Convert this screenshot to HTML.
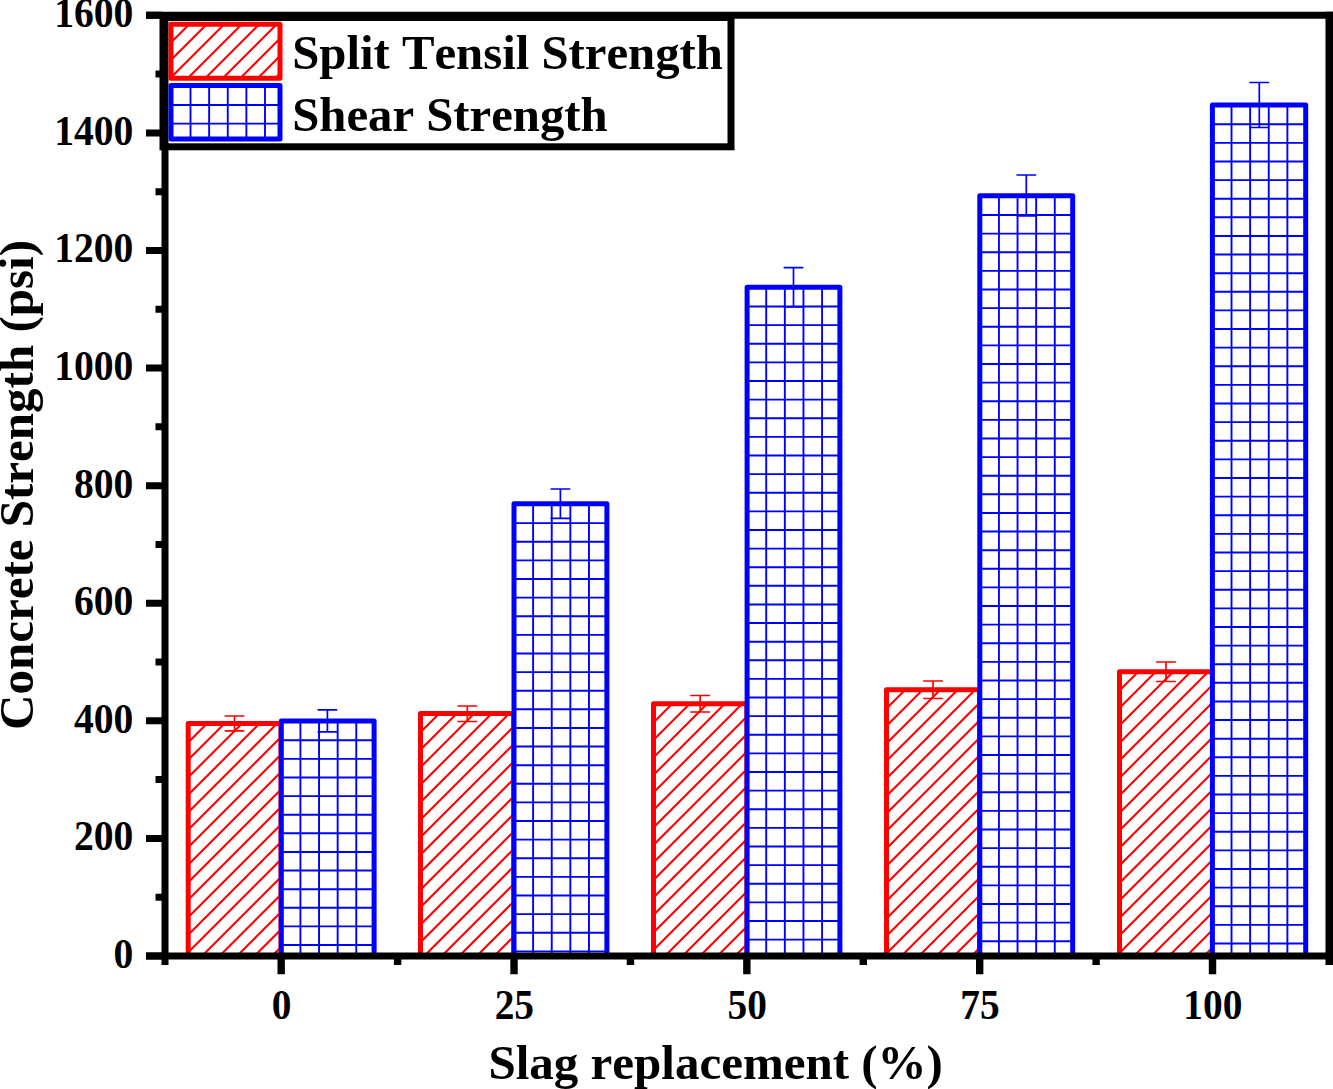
<!DOCTYPE html>
<html><head><meta charset="utf-8"><title>Concrete Strength vs Slag replacement</title>
<style>html,body{margin:0;padding:0;background:#fff;}body{width:1333px;height:1089px;overflow:hidden;}svg{display:block;}text{font-family:"Liberation Serif",serif;font-weight:bold;fill:#000;font-kerning:none;font-variant-ligatures:none;}</style>
</head><body>
<svg width="1333" height="1089" viewBox="0 0 1333 1089">
<rect x="0" y="0" width="1333" height="1089" fill="#fff"/>
<clipPath id="c1"><rect x="188.20" y="723.60" width="92.80" height="232.40"/></clipPath>
<g clip-path="url(#c1)" stroke="#ff0000" stroke-width="2.10" fill="none">
<path d="M183.20 729.85L286.00 627.05M183.20 747.35L286.00 644.55M183.20 764.85L286.00 662.05M183.20 782.35L286.00 679.55M183.20 799.85L286.00 697.05M183.20 817.35L286.00 714.55M183.20 834.85L286.00 732.05M183.20 852.35L286.00 749.55M183.20 869.85L286.00 767.05M183.20 887.35L286.00 784.55M183.20 904.85L286.00 802.05M183.20 922.35L286.00 819.55M183.20 939.85L286.00 837.05M183.20 957.35L286.00 854.55M183.20 974.85L286.00 872.05M183.20 992.35L286.00 889.55M183.20 1009.85L286.00 907.05M183.20 1027.35L286.00 924.55M183.20 1044.85L286.00 942.05"/>
</g>
<rect x="188.20" y="723.60" width="92.80" height="232.40" fill="none" stroke="#ff0000" stroke-width="5.00" stroke-linejoin="round"/>
<path d="M225.30 716.00H243.70M225.30 730.80H243.70M234.50 716.00V730.80" stroke="#ff0000" stroke-width="1.7" stroke-linecap="round" fill="none"/>
<rect x="281.30" y="720.90" width="92.80" height="235.10" fill="#fff" stroke="none"/>
<clipPath id="c2"><rect x="281.30" y="720.90" width="92.80" height="235.10"/></clipPath>
<g clip-path="url(#c2)" stroke="#0000ff" stroke-width="1.90" fill="none">
<path d="M300.42 720.90V956.00M319.04 720.90V956.00M337.66 720.90V956.00M356.28 720.90V956.00M281.30 740.22H374.10M281.30 758.84H374.10M281.30 777.46H374.10M281.30 796.08H374.10M281.30 814.70H374.10M281.30 833.32H374.10M281.30 851.94H374.10M281.30 870.56H374.10M281.30 889.18H374.10M281.30 907.80H374.10M281.30 926.42H374.10M281.30 945.04H374.10"/>
</g>
<rect x="281.30" y="720.90" width="92.80" height="235.10" fill="none" stroke="#0000ff" stroke-width="5.00" stroke-linejoin="round"/>
<path d="M318.20 709.80H336.60M318.20 731.80H336.60M327.40 709.80V731.80" stroke="#0000ff" stroke-width="1.7" stroke-linecap="round" fill="none"/>
<clipPath id="c3"><rect x="420.50" y="713.50" width="93.30" height="242.50"/></clipPath>
<g clip-path="url(#c3)" stroke="#ff0000" stroke-width="2.10" fill="none">
<path d="M415.50 719.75L518.80 616.45M415.50 737.25L518.80 633.95M415.50 754.75L518.80 651.45M415.50 772.25L518.80 668.95M415.50 789.75L518.80 686.45M415.50 807.25L518.80 703.95M415.50 824.75L518.80 721.45M415.50 842.25L518.80 738.95M415.50 859.75L518.80 756.45M415.50 877.25L518.80 773.95M415.50 894.75L518.80 791.45M415.50 912.25L518.80 808.95M415.50 929.75L518.80 826.45M415.50 947.25L518.80 843.95M415.50 964.75L518.80 861.45M415.50 982.25L518.80 878.95M415.50 999.75L518.80 896.45M415.50 1017.25L518.80 913.95M415.50 1034.75L518.80 931.45M415.50 1052.25L518.80 948.95"/>
</g>
<rect x="420.50" y="713.50" width="93.30" height="242.50" fill="none" stroke="#ff0000" stroke-width="5.00" stroke-linejoin="round"/>
<path d="M458.10 706.00H476.50M458.10 721.50H476.50M467.30 706.00V721.50" stroke="#ff0000" stroke-width="1.7" stroke-linecap="round" fill="none"/>
<rect x="514.00" y="503.80" width="92.90" height="452.20" fill="#fff" stroke="none"/>
<clipPath id="c4"><rect x="514.00" y="503.80" width="92.90" height="452.20"/></clipPath>
<g clip-path="url(#c4)" stroke="#0000ff" stroke-width="1.90" fill="none">
<path d="M533.12 503.80V956.00M551.74 503.80V956.00M570.36 503.80V956.00M588.98 503.80V956.00M514.00 523.12H606.90M514.00 541.74H606.90M514.00 560.36H606.90M514.00 578.98H606.90M514.00 597.60H606.90M514.00 616.22H606.90M514.00 634.84H606.90M514.00 653.46H606.90M514.00 672.08H606.90M514.00 690.70H606.90M514.00 709.32H606.90M514.00 727.94H606.90M514.00 746.56H606.90M514.00 765.18H606.90M514.00 783.80H606.90M514.00 802.42H606.90M514.00 821.04H606.90M514.00 839.66H606.90M514.00 858.28H606.90M514.00 876.90H606.90M514.00 895.52H606.90M514.00 914.14H606.90M514.00 932.76H606.90M514.00 951.38H606.90"/>
</g>
<rect x="514.00" y="503.80" width="92.90" height="452.20" fill="none" stroke="#0000ff" stroke-width="5.00" stroke-linejoin="round"/>
<path d="M551.20 489.00H569.60M551.20 518.30H569.60M560.40 489.00V518.30" stroke="#0000ff" stroke-width="1.7" stroke-linecap="round" fill="none"/>
<clipPath id="c5"><rect x="653.50" y="703.75" width="93.40" height="252.25"/></clipPath>
<g clip-path="url(#c5)" stroke="#ff0000" stroke-width="2.10" fill="none">
<path d="M648.50 710.00L751.90 606.60M648.50 727.50L751.90 624.10M648.50 745.00L751.90 641.60M648.50 762.50L751.90 659.10M648.50 780.00L751.90 676.60M648.50 797.50L751.90 694.10M648.50 815.00L751.90 711.60M648.50 832.50L751.90 729.10M648.50 850.00L751.90 746.60M648.50 867.50L751.90 764.10M648.50 885.00L751.90 781.60M648.50 902.50L751.90 799.10M648.50 920.00L751.90 816.60M648.50 937.50L751.90 834.10M648.50 955.00L751.90 851.60M648.50 972.50L751.90 869.10M648.50 990.00L751.90 886.60M648.50 1007.50L751.90 904.10M648.50 1025.00L751.90 921.60M648.50 1042.50L751.90 939.10"/>
</g>
<rect x="653.50" y="703.75" width="93.40" height="252.25" fill="none" stroke="#ff0000" stroke-width="5.00" stroke-linejoin="round"/>
<path d="M691.00 695.50H709.40M691.00 712.00H709.40M700.20 695.50V712.00" stroke="#ff0000" stroke-width="1.7" stroke-linecap="round" fill="none"/>
<rect x="747.10" y="287.20" width="92.80" height="668.80" fill="#fff" stroke="none"/>
<clipPath id="c6"><rect x="747.10" y="287.20" width="92.80" height="668.80"/></clipPath>
<g clip-path="url(#c6)" stroke="#0000ff" stroke-width="1.90" fill="none">
<path d="M766.22 287.20V956.00M784.84 287.20V956.00M803.46 287.20V956.00M822.08 287.20V956.00M747.10 306.52H839.90M747.10 325.14H839.90M747.10 343.76H839.90M747.10 362.38H839.90M747.10 381.00H839.90M747.10 399.62H839.90M747.10 418.24H839.90M747.10 436.86H839.90M747.10 455.48H839.90M747.10 474.10H839.90M747.10 492.72H839.90M747.10 511.34H839.90M747.10 529.96H839.90M747.10 548.58H839.90M747.10 567.20H839.90M747.10 585.82H839.90M747.10 604.44H839.90M747.10 623.06H839.90M747.10 641.68H839.90M747.10 660.30H839.90M747.10 678.92H839.90M747.10 697.54H839.90M747.10 716.16H839.90M747.10 734.78H839.90M747.10 753.40H839.90M747.10 772.02H839.90M747.10 790.64H839.90M747.10 809.26H839.90M747.10 827.88H839.90M747.10 846.50H839.90M747.10 865.12H839.90M747.10 883.74H839.90M747.10 902.36H839.90M747.10 920.98H839.90M747.10 939.60H839.90"/>
</g>
<rect x="747.10" y="287.20" width="92.80" height="668.80" fill="none" stroke="#0000ff" stroke-width="5.00" stroke-linejoin="round"/>
<path d="M784.30 267.60H802.70M784.30 306.80H802.70M793.50 267.60V306.80" stroke="#0000ff" stroke-width="1.7" stroke-linecap="round" fill="none"/>
<clipPath id="c7"><rect x="886.50" y="689.75" width="93.20" height="266.25"/></clipPath>
<g clip-path="url(#c7)" stroke="#ff0000" stroke-width="2.10" fill="none">
<path d="M881.50 696.00L984.70 592.80M881.50 713.50L984.70 610.30M881.50 731.00L984.70 627.80M881.50 748.50L984.70 645.30M881.50 766.00L984.70 662.80M881.50 783.50L984.70 680.30M881.50 801.00L984.70 697.80M881.50 818.50L984.70 715.30M881.50 836.00L984.70 732.80M881.50 853.50L984.70 750.30M881.50 871.00L984.70 767.80M881.50 888.50L984.70 785.30M881.50 906.00L984.70 802.80M881.50 923.50L984.70 820.30M881.50 941.00L984.70 837.80M881.50 958.50L984.70 855.30M881.50 976.00L984.70 872.80M881.50 993.50L984.70 890.30M881.50 1011.00L984.70 907.80M881.50 1028.50L984.70 925.30M881.50 1046.00L984.70 942.80"/>
</g>
<rect x="886.50" y="689.75" width="93.20" height="266.25" fill="none" stroke="#ff0000" stroke-width="5.00" stroke-linejoin="round"/>
<path d="M923.80 681.00H942.20M923.80 698.50H942.20M933.00 681.00V698.50" stroke="#ff0000" stroke-width="1.7" stroke-linecap="round" fill="none"/>
<rect x="979.80" y="195.70" width="92.90" height="760.30" fill="#fff" stroke="none"/>
<clipPath id="c8"><rect x="979.80" y="195.70" width="92.90" height="760.30"/></clipPath>
<g clip-path="url(#c8)" stroke="#0000ff" stroke-width="1.90" fill="none">
<path d="M998.92 195.70V956.00M1017.54 195.70V956.00M1036.16 195.70V956.00M1054.78 195.70V956.00M979.80 215.02H1072.70M979.80 233.64H1072.70M979.80 252.26H1072.70M979.80 270.88H1072.70M979.80 289.50H1072.70M979.80 308.12H1072.70M979.80 326.74H1072.70M979.80 345.36H1072.70M979.80 363.98H1072.70M979.80 382.60H1072.70M979.80 401.22H1072.70M979.80 419.84H1072.70M979.80 438.46H1072.70M979.80 457.08H1072.70M979.80 475.70H1072.70M979.80 494.32H1072.70M979.80 512.94H1072.70M979.80 531.56H1072.70M979.80 550.18H1072.70M979.80 568.80H1072.70M979.80 587.42H1072.70M979.80 606.04H1072.70M979.80 624.66H1072.70M979.80 643.28H1072.70M979.80 661.90H1072.70M979.80 680.52H1072.70M979.80 699.14H1072.70M979.80 717.76H1072.70M979.80 736.38H1072.70M979.80 755.00H1072.70M979.80 773.62H1072.70M979.80 792.24H1072.70M979.80 810.86H1072.70M979.80 829.48H1072.70M979.80 848.10H1072.70M979.80 866.72H1072.70M979.80 885.34H1072.70M979.80 903.96H1072.70M979.80 922.58H1072.70M979.80 941.20H1072.70"/>
</g>
<rect x="979.80" y="195.70" width="92.90" height="760.30" fill="none" stroke="#0000ff" stroke-width="5.00" stroke-linejoin="round"/>
<path d="M1017.10 175.00H1035.50M1017.10 216.00H1035.50M1026.30 175.00V216.00" stroke="#0000ff" stroke-width="1.7" stroke-linecap="round" fill="none"/>
<clipPath id="c9"><rect x="1119.50" y="671.75" width="93.00" height="284.25"/></clipPath>
<g clip-path="url(#c9)" stroke="#ff0000" stroke-width="2.10" fill="none">
<path d="M1114.50 678.00L1217.50 575.00M1114.50 695.50L1217.50 592.50M1114.50 713.00L1217.50 610.00M1114.50 730.50L1217.50 627.50M1114.50 748.00L1217.50 645.00M1114.50 765.50L1217.50 662.50M1114.50 783.00L1217.50 680.00M1114.50 800.50L1217.50 697.50M1114.50 818.00L1217.50 715.00M1114.50 835.50L1217.50 732.50M1114.50 853.00L1217.50 750.00M1114.50 870.50L1217.50 767.50M1114.50 888.00L1217.50 785.00M1114.50 905.50L1217.50 802.50M1114.50 923.00L1217.50 820.00M1114.50 940.50L1217.50 837.50M1114.50 958.00L1217.50 855.00M1114.50 975.50L1217.50 872.50M1114.50 993.00L1217.50 890.00M1114.50 1010.50L1217.50 907.50M1114.50 1028.00L1217.50 925.00M1114.50 1045.50L1217.50 942.50"/>
</g>
<rect x="1119.50" y="671.75" width="93.00" height="284.25" fill="none" stroke="#ff0000" stroke-width="5.00" stroke-linejoin="round"/>
<path d="M1156.80 662.00H1175.20M1156.80 681.50H1175.20M1166.00 662.00V681.50" stroke="#ff0000" stroke-width="1.7" stroke-linecap="round" fill="none"/>
<rect x="1212.40" y="104.90" width="93.30" height="851.10" fill="#fff" stroke="none"/>
<clipPath id="c10"><rect x="1212.40" y="104.90" width="93.30" height="851.10"/></clipPath>
<g clip-path="url(#c10)" stroke="#0000ff" stroke-width="1.90" fill="none">
<path d="M1231.52 104.90V956.00M1250.14 104.90V956.00M1268.76 104.90V956.00M1287.38 104.90V956.00M1212.40 124.22H1305.70M1212.40 142.84H1305.70M1212.40 161.46H1305.70M1212.40 180.08H1305.70M1212.40 198.70H1305.70M1212.40 217.32H1305.70M1212.40 235.94H1305.70M1212.40 254.56H1305.70M1212.40 273.18H1305.70M1212.40 291.80H1305.70M1212.40 310.42H1305.70M1212.40 329.04H1305.70M1212.40 347.66H1305.70M1212.40 366.28H1305.70M1212.40 384.90H1305.70M1212.40 403.52H1305.70M1212.40 422.14H1305.70M1212.40 440.76H1305.70M1212.40 459.38H1305.70M1212.40 478.00H1305.70M1212.40 496.62H1305.70M1212.40 515.24H1305.70M1212.40 533.86H1305.70M1212.40 552.48H1305.70M1212.40 571.10H1305.70M1212.40 589.72H1305.70M1212.40 608.34H1305.70M1212.40 626.96H1305.70M1212.40 645.58H1305.70M1212.40 664.20H1305.70M1212.40 682.82H1305.70M1212.40 701.44H1305.70M1212.40 720.06H1305.70M1212.40 738.68H1305.70M1212.40 757.30H1305.70M1212.40 775.92H1305.70M1212.40 794.54H1305.70M1212.40 813.16H1305.70M1212.40 831.78H1305.70M1212.40 850.40H1305.70M1212.40 869.02H1305.70M1212.40 887.64H1305.70M1212.40 906.26H1305.70M1212.40 924.88H1305.70M1212.40 943.50H1305.70"/>
</g>
<rect x="1212.40" y="104.90" width="93.30" height="851.10" fill="none" stroke="#0000ff" stroke-width="5.00" stroke-linejoin="round"/>
<path d="M1250.10 82.50H1268.50M1250.10 127.50H1268.50M1259.30 82.50V127.50" stroke="#0000ff" stroke-width="1.7" stroke-linecap="round" fill="none"/>
<g stroke="#000" stroke-width="7" fill="none" stroke-linecap="butt">
<path d="M146 15.3H1333"/>
<path d="M146 956H1333"/>
<path d="M165 12V965"/>
<path d="M1329.5 11.8V965" stroke-width="8"/>
<path d="M146 956.00H162M155.5 897.21H162M146 838.41H162M155.5 779.62H162M146 720.83H162M155.5 662.03H162M146 603.24H162M155.5 544.44H162M146 485.65H162M155.5 426.86H162M146 368.06H162M155.5 309.27H162M146 250.48H162M155.5 191.68H162M146 132.89H162M155.5 74.09H162M146 15.30H162"/>
</g>
<g stroke="#000" stroke-width="7.4" fill="none">
<path d="M281.20 959V974.3M514.03 959V974.3M746.86 959V974.3M979.69 959V974.3M1212.52 959V974.3M397.62 959V965M630.44 959V965M863.27 959V965M1096.11 959V965"/>
</g>
<rect x="163" y="17.5" width="568" height="129.3" fill="none" stroke="#000" stroke-width="7"/>
<clipPath id="c11"><rect x="171.00" y="24.30" width="109.00" height="53.90"/></clipPath>
<g clip-path="url(#c11)" stroke="#ff0000" stroke-width="2.10" fill="none">
<path d="M166.00 30.00L285.00 -89.00M166.00 47.50L285.00 -71.50M166.00 65.00L285.00 -54.00M166.00 82.50L285.00 -36.50M166.00 100.00L285.00 -19.00M166.00 117.50L285.00 -1.50M166.00 135.00L285.00 16.00M166.00 152.50L285.00 33.50M166.00 170.00L285.00 51.00M166.00 187.50L285.00 68.50"/>
</g>
<rect x="171.00" y="24.30" width="109.00" height="53.90" fill="none" stroke="#ff0000" stroke-width="5.00" stroke-linejoin="round"/>
<rect x="171.00" y="85.50" width="109.00" height="53.60" fill="#fff" stroke="none"/>
<clipPath id="c12"><rect x="171.00" y="85.50" width="109.00" height="53.60"/></clipPath>
<g clip-path="url(#c12)" stroke="#0000ff" stroke-width="1.90" fill="none">
<path d="M190.52 85.50V139.10M209.14 85.50V139.10M227.76 85.50V139.10M246.38 85.50V139.10M265.00 85.50V139.10M171.00 105.02H280.00M171.00 123.64H280.00"/>
</g>
<rect x="171.00" y="85.50" width="109.00" height="53.60" fill="none" stroke="#0000ff" stroke-width="5.00" stroke-linejoin="round"/>
<text x="292.2" y="68.8" font-size="48.75">Split Tensil Strength</text>
<text x="292.2" y="130.7" font-size="48.75">Shear Strength</text>
<text transform="translate(133.3 967.90) scale(0.99 1.03)" font-size="40" text-anchor="end">0</text>
<text transform="translate(133.3 850.31) scale(0.99 1.03)" font-size="40" text-anchor="end">200</text>
<text transform="translate(133.3 732.73) scale(0.99 1.03)" font-size="40" text-anchor="end">400</text>
<text transform="translate(133.3 615.14) scale(0.99 1.03)" font-size="40" text-anchor="end">600</text>
<text transform="translate(133.3 497.55) scale(0.99 1.03)" font-size="40" text-anchor="end">800</text>
<text transform="translate(133.3 379.96) scale(0.99 1.03)" font-size="40" text-anchor="end">1000</text>
<text transform="translate(133.3 262.38) scale(0.99 1.03)" font-size="40" text-anchor="end">1200</text>
<text transform="translate(133.3 144.79) scale(0.99 1.03)" font-size="40" text-anchor="end">1400</text>
<text transform="translate(133.3 27.20) scale(0.99 1.03)" font-size="40" text-anchor="end">1600</text>
<text transform="translate(281.50 1018.7) scale(0.985 1.045)" font-size="40" text-anchor="middle">0</text>
<text transform="translate(514.33 1018.7) scale(0.985 1.045)" font-size="40" text-anchor="middle">25</text>
<text transform="translate(747.16 1018.7) scale(0.985 1.045)" font-size="40" text-anchor="middle">50</text>
<text transform="translate(979.99 1018.7) scale(0.985 1.045)" font-size="40" text-anchor="middle">75</text>
<text transform="translate(1212.82 1018.7) scale(0.985 1.045)" font-size="40" text-anchor="middle">100</text>
<text x="715.7" y="1078.8" font-size="49" text-anchor="middle">Slag replacement (%)</text>
<text transform="translate(33.1 485.0) rotate(-90)" font-size="49" text-anchor="middle">Concrete Strength (psi)</text>
</svg>
</body></html>
